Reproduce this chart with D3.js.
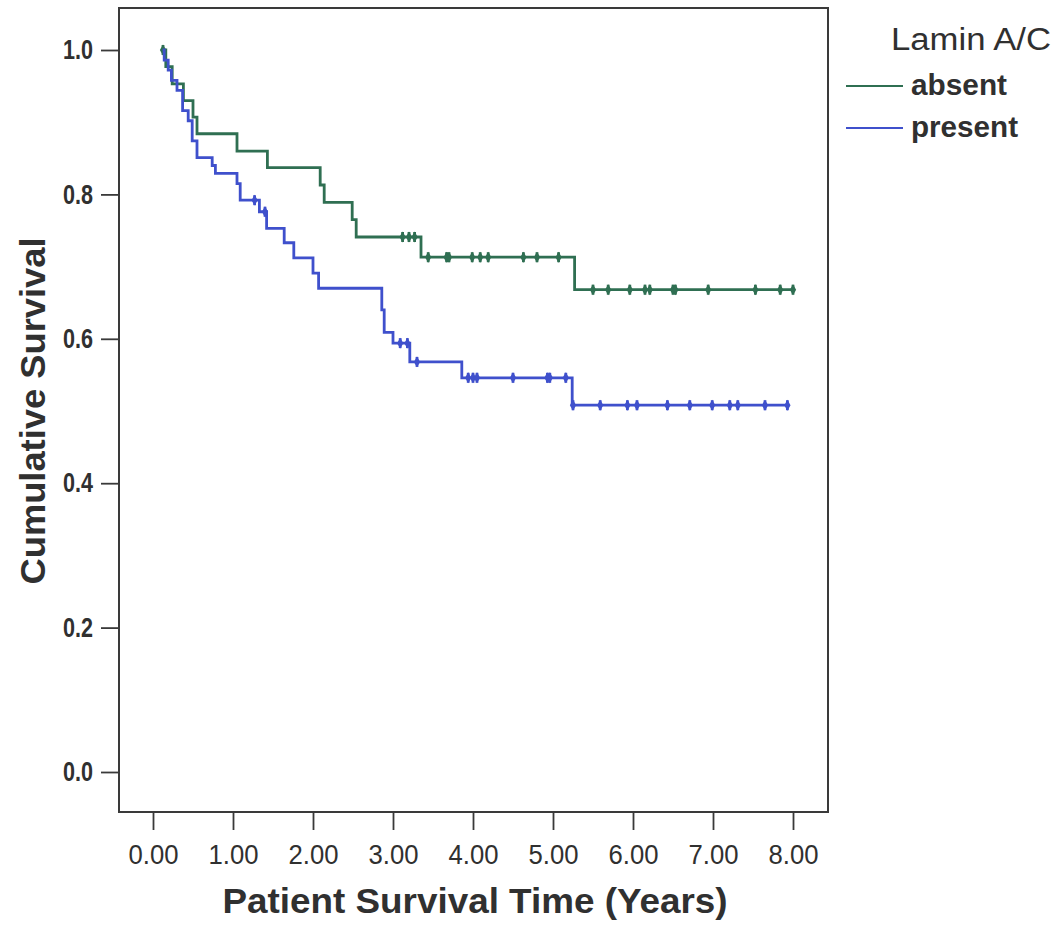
<!DOCTYPE html>
<html>
<head>
<meta charset="utf-8">
<script src="https://cdn.jsdelivr.net/npm/d3@7"></script>
<style>
  html, body { margin: 0; padding: 0; background: #ffffff; }
  svg text { font-family: "Liberation Sans", Arial, sans-serif; fill: #303030; }
</style>
</head>
<body>
<svg id="chart" width="1064" height="926"></svg>
<script>
// Kaplan-Meier survival by Lamin A/C expression

const groupNames = ["absent", "present"];
const groupColors = ["#2f6f52", "#3f50cc"];

// Lamin A/C absent: event times (years) and survival after each step
const absentTime = [0.125, 0.16, 0.24, 0.38, 0.50, 0.55, 1.05, 1.43, 2.09, 2.14, 2.49, 2.54, 3.35, 5.27];
const absentSurv = [1.000, 0.977, 0.953, 0.930, 0.907, 0.884, 0.860, 0.837, 0.813, 0.789, 0.765, 0.741, 0.713, 0.668];
const absentCensored = [0.125, 3.12, 3.20, 3.27, 3.44, 3.67, 3.70, 3.99, 4.09, 4.19, 4.63, 4.80, 5.07,
                        5.50, 5.69, 5.96, 6.15, 6.21, 6.50, 6.53, 6.94, 7.53, 7.84, 8.00];

// Lamin A/C present
const presentTime = [0.12, 0.14, 0.19, 0.23, 0.30, 0.37, 0.44, 0.49, 0.55, 0.74, 0.78, 1.05, 1.09, 1.33,
                     1.42, 1.64, 1.76, 2.00, 2.07, 2.86, 2.89, 3.00, 3.21, 3.86, 5.24];
const presentSurv = [1.000, 0.986, 0.972, 0.958, 0.944, 0.916, 0.902, 0.874, 0.851, 0.840, 0.829, 0.815, 0.792, 0.776,
                     0.753, 0.733, 0.712, 0.691, 0.670, 0.640, 0.609, 0.594, 0.568, 0.546, 0.508];
const presentCensored = [1.27, 1.40, 3.09, 3.18, 3.30, 3.94, 4.00, 4.05, 4.50, 4.93, 4.96, 5.16,
                         5.25, 5.59, 5.93, 6.05, 6.43, 6.71, 6.99, 7.21, 7.31, 7.65, 7.93];

const xTicks = [0, 1, 2, 3, 4, 5, 6, 7, 8];
const yTicks = [0.0, 0.2, 0.4, 0.6, 0.8, 1.0];

const series = [
  { name: groupNames[0], color: groupColors[0], time: absentTime, surv: absentSurv, cens: absentCensored },
  { name: groupNames[1], color: groupColors[1], time: presentTime, surv: presentSurv, cens: presentCensored }
];

const svg = d3.select("#chart");

const frame = { left: 119, right: 828, top: 8, bottom: 812 };
const x = d3.scaleLinear().domain([0, 8]).range([153, 793]);
const y = d3.scaleLinear().domain([0, 1]).range([772, 50]);

// plot frame
svg.append("rect")
  .attr("x", frame.left).attr("y", frame.top)
  .attr("width", frame.right - frame.left).attr("height", frame.bottom - frame.top)
  .attr("fill", "#ffffff").attr("stroke", "#3a3a3a").attr("stroke-width", 2);

// axes
const yAxis = svg.append("g")
  .attr("transform", `translate(${frame.left},0)`)
  .call(d3.axisLeft(y).tickValues(yTicks).tickFormat(d3.format(".1f")).tickSize(18).tickPadding(8));
const xAxis = svg.append("g")
  .attr("transform", `translate(0,${frame.bottom})`)
  .call(d3.axisBottom(x).tickValues(xTicks).tickFormat(d3.format(".2f")).tickSize(18).tickPadding(14));

[yAxis, xAxis].forEach(g => {
  g.select(".domain").remove();
  g.selectAll(".tick line").attr("stroke", "#3a3a3a").attr("stroke-width", 1.8);
  g.selectAll(".tick text").attr("fill", "#303030").style("font-family", "Liberation Sans, Arial, sans-serif");
});
yAxis.selectAll(".tick text")
  .style("font-size", "27px").style("font-weight", "bold")
  .attr("textLength", 30).attr("lengthAdjust", "spacingAndGlyphs");
xAxis.selectAll(".tick text")
  .style("font-size", "28px")
  .attr("textLength", 50).attr("lengthAdjust", "spacingAndGlyphs");

// axis titles
svg.append("text")
  .attr("x", 475).attr("y", 913)
  .attr("text-anchor", "middle")
  .attr("textLength", 505).attr("lengthAdjust", "spacingAndGlyphs")
  .style("font-size", "35px").style("font-weight", "bold")
  .text("Patient Survival Time (Years)");

svg.append("text")
  .attr("transform", "translate(45,411) rotate(-90)")
  .attr("text-anchor", "middle")
  .attr("textLength", 347).attr("lengthAdjust", "spacingAndGlyphs")
  .style("font-size", "35px").style("font-weight", "bold")
  .text("Cumulative Survival");

// survival step curves
const line = d3.line()
  .x(d => x(d[0]))
  .y(d => y(d[1]))
  .curve(d3.curveStepAfter);

series.forEach(s => {
  const pts = s.time.map((t, i) => [t, s.surv[i]]);
  const tEnd = d3.max(s.cens.concat(s.time));
  pts.push([tEnd, s.surv[s.surv.length - 1]]);

  svg.append("path")
    .datum(pts)
    .attr("fill", "none")
    .attr("stroke", s.color)
    .attr("stroke-width", 2.8)
    .attr("d", line);

  // survival level at a given time
  const survAt = t => {
    let v = s.surv[0];
    s.time.forEach((tt, i) => { if (tt <= t) v = s.surv[i]; });
    return v;
  };

  const marks = svg.append("g");
  s.cens.forEach(t => {
    const cx = x(t), cy = y(survAt(t));
    marks.append("line")
      .attr("x1", cx).attr("x2", cx).attr("y1", cy - 5).attr("y2", cy + 5)
      .attr("stroke", s.color).attr("stroke-width", 2.8);
    marks.append("path")
      .attr("transform", `translate(${cx},${cy})`)
      .attr("d", d3.symbol(d3.symbolDiamond, 34)())
      .attr("fill", s.color);
  });
});

// legend
const legend = svg.append("g");
legend.append("text")
  .attr("x", 891).attr("y", 50)
  .attr("textLength", 160).attr("lengthAdjust", "spacingAndGlyphs")
  .style("font-size", "31px")
  .text("Lamin A/C");
series.forEach((s, i) => {
  const ly = 86 + i * 42;
  legend.append("line")
    .attr("x1", 846).attr("x2", 903).attr("y1", ly).attr("y2", ly)
    .attr("stroke", s.color).attr("stroke-width", 2.2);
  legend.append("text")
    .attr("x", 911).attr("y", ly + 9)
    .attr("textLength", i === 0 ? 96 : 107).attr("lengthAdjust", "spacingAndGlyphs")
    .style("font-size", "30px").style("font-weight", "bold")
    .text(s.name);
});
</script>
</body>
</html>
